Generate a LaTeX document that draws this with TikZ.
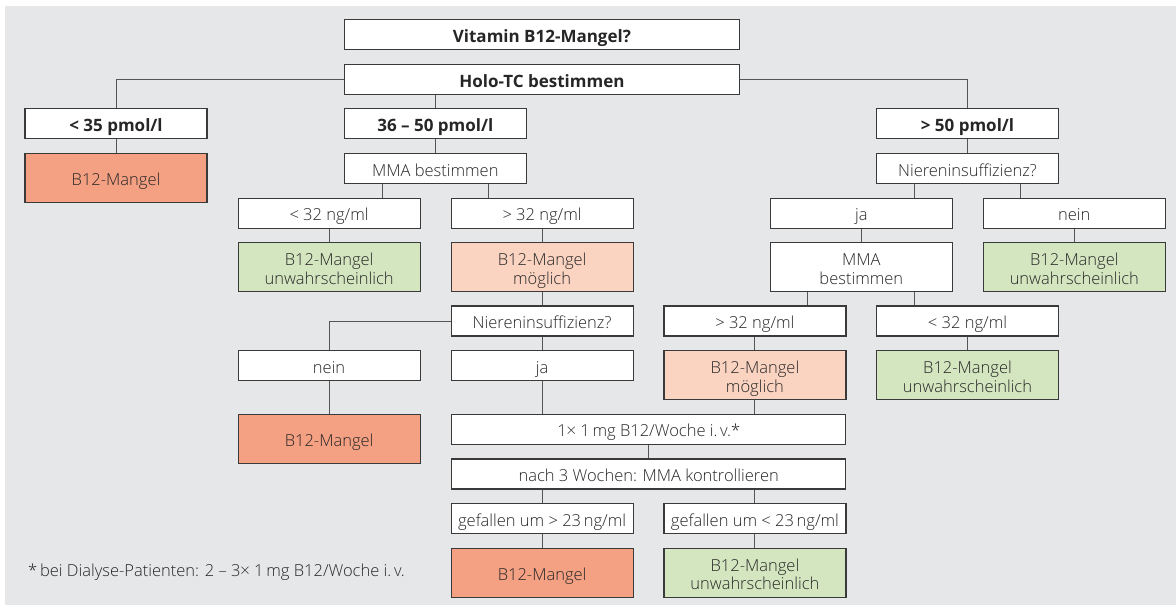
\documentclass[tikz,border=0pt]{standalone}
\usepackage{fontspec}
\setmainfont{Open Sans}[UprightFont=* Light, BoldFont=* Bold]
\usepackage{xcolor}
\usepackage{tikz}
\usetikzlibrary{positioning,calc}

\definecolor{bggray}{HTML}{E6E7E9}
\definecolor{mangelred}{HTML}{F4A083}
\definecolor{moeglichrose}{HTML}{FBD3C1}
\definecolor{unwahrgreen}{HTML}{D4E6C0}
\definecolor{boxline}{HTML}{3A3A3A}
\definecolor{connline}{HTML}{555555}

\begin{document}
\begin{tikzpicture}[x=1pt, y=-1pt,
    box/.style={draw=boxline, line width=1.2pt, fill=white, minimum width=182pt, minimum height=30pt,
        inner sep=0pt, align=center, text=black!85, text height=15.4pt, text depth=0pt,
        font=\fontsize{16.5}{18.5}\selectfont},
    widebox/.style={box, minimum width=395pt},
    tallbox/.style={box, minimum height=49pt},
    twoline/.style={text height=33.6pt, text depth=0pt},
    headtext/.style={font=\fontsize{17}{18.5}\selectfont\bfseries},
    mangelbox/.style={tallbox, fill=mangelred},
    moeglichbox/.style={tallbox, twoline, fill=moeglichrose},
    unwahrbox/.style={tallbox, twoline, fill=unwahrgreen},
    conn/.style={draw=connline, line width=1pt}]

    \useasboundingbox (0,0) rectangle (1176,605);
    \fill[bggray] (5,6) rectangle (1176,605);

    % Kopf
    \node [widebox, headtext] (frage) at (541.9,34.7) {Vitamin B12-Mangel?};
    \node [widebox, headtext] (holo) at (541.9,79.3) {Holo-TC bestimmen};
    \node [box, headtext] (lt35) at (116,123.8) {< 35 pmol/l};
    \node [box, headtext] (mid35) at (435.3,123.8) {36 – 50 pmol/l};
    \node [box, headtext] (gt50) at (967.5,123.8) {> 50 pmol/l};

    % Zweige
    \node [mangelbox] (mangelA) at (116,177.8) {B12-Mangel};
    \node [box] (mmaA) at (435.3,168.3) {MMA bestimmen};
    \node [box] (nierenB) at (967.5,168.3) {Niereninsuffizienz?};
    \node [box] (lt32A) at (329.1,213.2) {< 32 ng/ml};
    \node [box] (gt32A) at (542.1,213.2) {> 32 ng/ml};
    \node [box] (jaB) at (861.3,213.2) {ja};
    \node [box] (neinB) at (1074.3,213.2) {nein};
    \node [unwahrbox] (unwahrA) at (329.1,267.2) {B12-Mangel\\unwahrscheinlich};
    \node [moeglichbox] (moeglichA) at (542.1,267.2) {B12-Mangel\\möglich};
    \node [tallbox, twoline] (mmaB) at (861.3,267.2) {MMA\\bestimmen};
    \node [unwahrbox] (unwahrB) at (1074.3,267.2) {B12-Mangel\\unwahrscheinlich};
    \node [box] (nierenA) at (542.1,321) {Niereninsuffizienz?};
    \node [box] (gt32B) at (754.9,321) {> 32 ng/ml};
    \node [box] (lt32B) at (967.5,321) {< 32 ng/ml};
    \node [box] (neinA) at (329.1,365.8) {nein};
    \node [box] (jaA) at (542.1,365.8) {ja};
    \node [moeglichbox] (moeglichB) at (754.9,375.2) {B12-Mangel\\möglich};
    \node [unwahrbox] (unwahrC) at (967.5,375.2) {B12-Mangel\\unwahrscheinlich};
    \node [mangelbox] (mangelB) at (329.1,438.7) {B12-Mangel};

    % Therapie
    \node [widebox, minimum width=394pt] (dosis) at (648.7,429.2) {1× 1\,mg B12/Woche i.\,v.*};
    \node [widebox, minimum width=394pt] (kontrolle) at (648.7,474) {nach 3 Wochen: MMA kontrollieren};
    \node [box] (gefallenA) at (542.1,518.7) {gefallen um > 23\,ng/ml};
    \node [box] (gefallenB) at (754.9,518.7) {gefallen um < 23\,ng/ml};
    \node [mangelbox] (mangelC) at (542.1,572.7) {B12-Mangel};
    \node [unwahrbox] (unwahrD) at (754.9,572.7) {B12-Mangel\\unwahrscheinlich};

    \node [anchor=base west, inner sep=0pt, text=black!85, font=\fontsize{16.5}{18.5}\selectfont] (fussnote) at (28,576.7)
        {*\,bei Dialyse-Patienten: 2 – 3× 1\,mg B12/Woche i.\,v.};

    % Verbindungen
    \draw [conn] (holo.west) -| (lt35.north);
    \draw [conn] (holo.east) -| (gt50.north);
    \draw [conn] (mid35.north |- holo.south) -- (mid35.north);
    \draw [conn] (lt35.south) -- (mangelA.north);
    \draw [conn] (mid35.south) -- (mmaA.north);
    \draw [conn] (gt50.south) -- (nierenB.north);
    \draw [conn] ([xshift=-53]mmaA.south) -- ([xshift=-53]mmaA.south |- lt32A.north);
    \draw [conn] ([xshift=53]mmaA.south) -- ([xshift=53]mmaA.south |- gt32A.north);
    \draw [conn] ([xshift=-53]nierenB.south) -- ([xshift=-53]nierenB.south |- jaB.north);
    \draw [conn] ([xshift=53]nierenB.south) -- ([xshift=53]nierenB.south |- neinB.north);
    \draw [conn] (lt32A.south) -- (unwahrA.north);
    \draw [conn] (gt32A.south) -- (moeglichA.north);
    \draw [conn] (jaB.south) -- (mmaB.north);
    \draw [conn] (neinB.south) -- (unwahrB.north);
    \draw [conn] (moeglichA.south) -- (nierenA.north);
    \draw [conn] ([xshift=-53.4]mmaB.south) -- ([xshift=-53.4]mmaB.south |- gt32B.north);
    \draw [conn] ([xshift=53]mmaB.south) -- ([xshift=53]mmaB.south |- lt32B.north);
    \draw [conn] (nierenA.west) -| (neinA.north);
    \draw [conn] (nierenA.south) -- (jaA.north);
    \draw [conn] (gt32B.south) -- (moeglichB.north);
    \draw [conn] (lt32B.south) -- (unwahrC.north);
    \draw [conn] (neinA.south) -- (mangelB.north);
    \draw [conn] (jaA.south) -- (jaA.south |- dosis.north);
    \draw [conn] (moeglichB.south) -- (moeglichB.south |- dosis.north);
    \draw [conn] (dosis.south) -- (kontrolle.north);
    \draw [conn] (gefallenA.north |- kontrolle.south) -- (gefallenA.north);
    \draw [conn] (gefallenB.north |- kontrolle.south) -- (gefallenB.north);
    \draw [conn] (gefallenA.south) -- (mangelC.north);
    \draw [conn] (gefallenB.south) -- (unwahrD.north);
\end{tikzpicture}
\end{document}
